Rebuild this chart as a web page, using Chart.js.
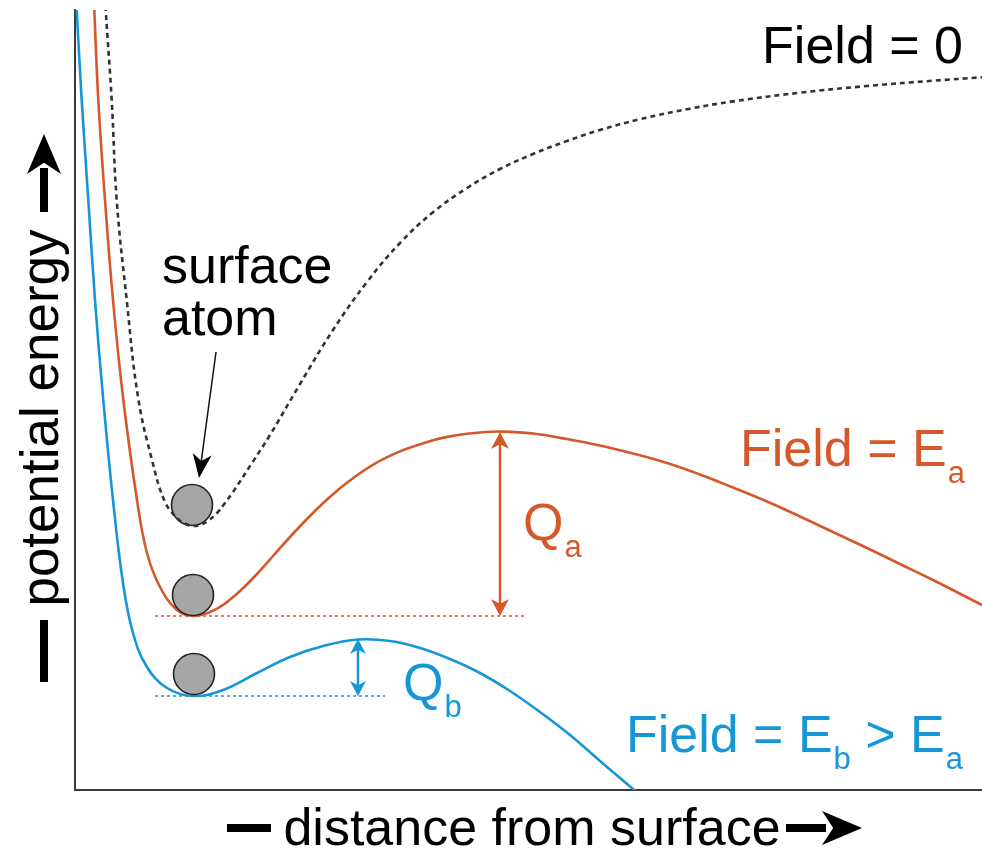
<!DOCTYPE html>
<html><head><meta charset="utf-8">
<script src="https://cdn.jsdelivr.net/npm/chart.js@4/dist/chart.umd.min.js"></script>
<style>html,body{margin:0;padding:0;background:#fff}</style>
</head><body>
<canvas id="c" width="982" height="852"></canvas>
<script>
// ---- data (arbitrary units: distance from surface, potential energy) ----
const field0X = [28.5,30.7,36.7,41.7,51.7,63,77,90,103,111,118,125,133,142,150,158,177,195,225,258,292,325,358,392,425,458,492,525,565,615,658,725,792,858,907];
const field0Y = [820,780,690,590,490,393,330,288,271,266,264,265,269,277,287,298,327,355,406,460,508,547,577.7,602,621,636,649,660,670.8,681.3,688.6,697.3,704,709.3,712.7];
const fieldAX = [17.5,19.3,23.3,30,38,48,62,72,85,102,118,135,148,165,182,198,215,232,248,265,282,295,308,325,342,358,375,392,408,425,458,492,525,558,592,625,658,692,725,758,792,825,858,907];
const fieldAY = [820,780,690,590,490,393,290,237,203,180,174,178,185,199,216,234,253,271,286.7,301.7,314.8,323.4,330.8,338.6,344.7,349.7,353.6,356.3,357.8,358.4,356.5,351,344.5,336.5,327,315.5,302.5,288.5,273.5,258,242,226,210,185];
const fieldBX = [-0.5,1.7,6.7,13.3,20,28,38,48,58,72,92,118,148,182,215,248,283,315,345,375,405,435,465,495,525,558,585];
const fieldBY = [820,780,690,590,490,393,290,207,157,123,102,94,100,117,133,144,150.5,149,142,131,117,99,78,55,29,1,-22];
const atomX = [117,118,119];
const atomY = [285,195,116];
const baseAX = [80,450]; const baseAY = [174,174];
const baseBX = [80,310]; const baseBY = [94,94];
const barrierX = [425,283];      // Q_a, Q_b arrow positions
const barrierLow = [174,94];
const barrierHigh = [358,151];
const seriesNames = ['Field = 0','Field = E_a','Field = E_b > E_a'];

const ORANGE = '#d5582b', BLUE = '#1597d7', DARK = '#333333';
const FONT = '"Liberation Sans", Arial, Helvetica, sans-serif';

const pts = (xs, ys) => xs.map((x,i)=>({x, y: ys[i]}));

function arrowHead(ctx, tx, ty, ang, len, wid, color){
  ctx.save();
  ctx.translate(tx,ty); ctx.rotate(ang);
  ctx.beginPath();
  ctx.moveTo(0,0);
  ctx.lineTo(-len, wid/2);
  ctx.lineTo(-len*0.72, 0);
  ctx.lineTo(-len, -wid/2);
  ctx.closePath();
  ctx.fillStyle = color; ctx.fill();
  ctx.restore();
}

function rich(ctx, x, y, parts, color, size, align){
  const sub = Math.round(size*0.6);
  let w = 0;
  parts.forEach(p=>{ ctx.font = (p[1]?sub:size)+'px '+FONT; w += ctx.measureText(p[0]).width + (p[1]?1:0); });
  let cx = align==='right' ? x - w : x;
  ctx.fillStyle = color; ctx.textBaseline='alphabetic'; ctx.textAlign='left';
  parts.forEach(p=>{
    ctx.font = (p[1]?sub:size)+'px '+FONT;
    const dy = p[1] ? size*0.33 : 0;
    const dx = p[1] ? 1 : 0;
    ctx.fillText(p[0], cx+dx, y+dy);
    cx += ctx.measureText(p[0]).width + dx;
  });
}

const deco = {
  id:'deco',
  afterDatasetsDraw(chart){
    const ctx = chart.ctx, X = chart.scales.x, Y = chart.scales.y;
    const px = v => X.getPixelForValue(v), py = v => Y.getPixelForValue(v);
    const cols = [ORANGE, BLUE];
    barrierX.forEach((bx,i)=>{
      const x = px(bx), y1 = py(barrierHigh[i]), y2 = py(barrierLow[i]);
      const hl = i===0?17:15, hw = i===0?18:16;
      ctx.save();
      ctx.strokeStyle = cols[i]; ctx.lineWidth = 2.5;
      ctx.beginPath(); ctx.moveTo(x, y1+hl*0.6); ctx.lineTo(x, y2-hl*0.6); ctx.stroke();
      ctx.restore();
      arrowHead(ctx, x, y1, -Math.PI/2, hl, hw, cols[i]);
      arrowHead(ctx, x, y2, Math.PI/2, hl, hw, cols[i]);
    });
    // surface atom pointer
    const sx = px(141), sy = py(438), ex = px(124), ey = py(312);
    const ang = Math.atan2(ey-sy, ex-sx);
    ctx.save(); ctx.strokeStyle='#111'; ctx.lineWidth=1.5;
    ctx.beginPath(); ctx.moveTo(sx,sy); ctx.lineTo(ex-Math.cos(ang)*16, ey-Math.sin(ang)*16); ctx.stroke(); ctx.restore();
    arrowHead(ctx, ex, ey, ang, 24, 19, '#000');
    // labels
    rich(ctx, px(888), py(727), [['Field = 0',0]], '#000', 52, 'right');
    rich(ctx, px(665), py(324), [['Field = E',0],['a',1]], ORANGE, 52, 'left');
    rich(ctx, px(888), py(38), [['Field = E',0],['b',1],[' > E',0],['a',1]], BLUE, 52, 'right');
    rich(ctx, px(448), py(250), [['Q',0],['a',1]], ORANGE, 52, 'left');
    rich(ctx, px(328), py(90), [['Q',0],['b',1]], BLUE, 52, 'left');
    ctx.font = '52px '+FONT; ctx.fillStyle='#000'; ctx.textAlign='left'; ctx.textBaseline='alphabetic';
    ctx.fillText('surface', px(87), py(507));
    ctx.fillText('atom', px(87), py(455));
  },
  afterDraw(chart){
    const ctx = chart.ctx;
    ctx.save();
    ctx.fillStyle = '#000';
    ctx.save();
    ctx.translate(58, 418); ctx.rotate(-Math.PI/2);
    ctx.font = '53px '+FONT; ctx.textAlign='center'; ctx.textBaseline='alphabetic';
    ctx.fillText('potential energy', 0, 0);
    ctx.restore();
    ctx.fillRect(40, 620, 8, 62);
    ctx.fillRect(40, 168, 8, 44);
    arrowHead(ctx, 44, 134, -Math.PI/2, 40, 34, '#000');
    ctx.font = '52px '+FONT; ctx.textAlign='center'; ctx.textBaseline='alphabetic';
    ctx.fillText('distance from surface', 532, 845);
    ctx.fillRect(227, 824, 44, 8);
    ctx.fillRect(786, 824, 40, 8);
    arrowHead(ctx, 862, 828, 0, 40, 34, '#000');
    ctx.restore();
  }
};

new Chart(document.getElementById('c'), {
  type: 'line',
  data: {
    datasets: [
      { label:'atoms', data: pts(atomX, atomY), showLine:false, pointRadius:20.5, pointHoverRadius:20.5,
        pointBackgroundColor:'#a6a6a6', pointBorderColor:'#222', pointBorderWidth:1.6, order:1 },
      { label: seriesNames[0], data: pts(field0X, field0Y), borderColor: DARK, borderWidth:2.6, borderDash:[5,4],
        pointRadius:0, tension:0.4, fill:false, order:0 },
      { label: seriesNames[1], data: pts(fieldAX, fieldAY), borderColor: ORANGE, borderWidth:2.6,
        pointRadius:0, tension:0.4, fill:false, order:2 },
      { label: seriesNames[2], data: pts(fieldBX, fieldBY), borderColor: BLUE, borderWidth:2.6,
        pointRadius:0, tension:0.4, fill:false, order:2 },
      { label:'baseA', data: pts(baseAX, baseAY), borderColor: ORANGE, borderWidth:1.5, borderDash:[3,3], pointRadius:0, order:3 },
      { label:'baseB', data: pts(baseBX, baseBY), borderColor: BLUE, borderWidth:1.5, borderDash:[3,3], pointRadius:0, order:3 }
    ]
  },
  options: {
    responsive:false, animation:false, events:[],
    layout:{ autoPadding:false, padding:{ left:75, top:10, right:0, bottom:62 } },
    plugins:{ legend:{display:false}, tooltip:{enabled:false} },
    scales:{
      x:{ type:'linear', min:0, max:907, ticks:{display:false}, grid:{display:false, drawTicks:false},
          border:{display:true, color:'#3a3a3a', width:2} },
      y:{ type:'linear', min:0, max:780, ticks:{display:false}, grid:{display:false, drawTicks:false},
          border:{display:true, color:'#3a3a3a', width:2} }
    }
  },
  plugins:[deco]
});
</script>
</body></html>
